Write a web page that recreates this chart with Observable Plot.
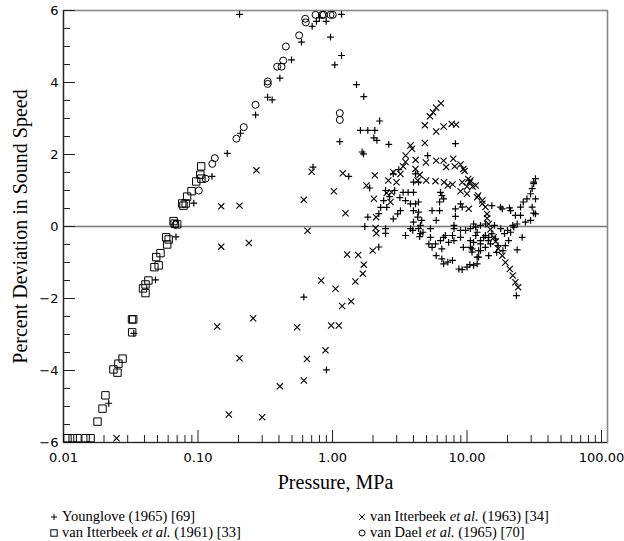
<!DOCTYPE html>
<html><head><meta charset="utf-8">
<script src="https://cdn.jsdelivr.net/npm/d3@7"></script>
<script src="https://cdn.jsdelivr.net/npm/@observablehq/plot@0.6"></script>
<style>
body{margin:0;background:#fff;}
#wrap{position:relative;width:624px;height:541px;background:#fff;}
.leg{position:absolute;font-family:"Liberation Serif","Times New Roman",serif;font-size:14.5px;line-height:16px;height:16px;white-space:nowrap;color:#000;}
.leg svg{vertical-align:-1px;margin-right:3px;overflow:visible}
</style></head><body><div id="wrap"></div>
<script>
// Younglove (1965) [69] : [pressure MPa, percent deviation]
const younglove = [
[0.0217,-4.91],[0.0333,-2.97],[0.0483,-1.48],[0.0686,-0.29],[0.093,0.65],[0.127,1.39],[0.165,2.03],[0.207,2.59],[0.268,3.10],[0.329,3.59],[0.356,3.52],[0.406,4.12],[0.496,4.63],[0.588,5.12],[0.706,5.56],[0.760,5.70],[0.80,5.80],[0.897,5.70],[0.2035,5.89],[1.167,5.89],[0.966,5.26],[1.167,4.75],[1.04,4.49],[1.508,3.94],[1.709,3.61],[2.24,2.93],[1.614,2.67],[1.83,2.67],[2.063,2.67],[2.03,2.46],[2.14,2.39],[1.133,2.36],[1.66,2.07],[1.70,2.02],[2.62,2.28],[0.716,1.65],[0.612,-1.96],[0.902,-3.98],[1.32,1.39],[1.89,1.07],[1.83,0.26],[1.74,0.0],[2.21,-0.57],[2.48,-0.19],[8.2,2.30],[5.1,1.97],
[2.83,1.46],[3.11,1.58],[4.14,1.46],[4.36,1.23],[4.0,1.23],[2.48,1.0],[2.9,1.0],[3.35,0.95],[3.65,0.95],[4.0,0.95],[2.66,0.83],[2.4,0.72],[3.17,0.80],[3.49,0.72],[3.8,0.63],[4.14,0.63],[4.36,0.68],[3.2,0.44],[3.05,0.35],[2.83,0.21],[4.0,0.44],[4.36,0.40],[4.3,0.26],[4.6,0.17],[4.0,0.12],[4.5,0.03],[4.36,-0.06],[4.7,-0.16],[4.45,-0.28],[3.95,-0.11],[3.49,-0.25],
[6.35,0.95],[6.7,0.77],[6.25,0.68],[6.25,0.44],[5.9,0.17],[5.35,-0.06],[5.35,-0.30],[5.2,-0.48],[5.5,-0.58],[5.9,-0.81],[6.5,-0.90],[6.7,-1.04],[7.2,-0.99],[7.8,-0.94],[8.7,-1.18],[9.2,-1.20],[10.0,-1.13],[10.5,-1.06],[11.9,-1.04],[12.2,-0.85],[8.2,0.49],[8.95,0.63],[9.2,0.54],[8.0,-0.06],[8.95,-0.11],[8.95,-0.30],[9.75,-0.11],[10.6,-0.06],[11.6,-0.02],[12.6,0.03],[13.7,0.07],[9.4,-0.58],[10.6,-0.58],[10.9,-0.71],[12.2,-0.67],[6.7,-0.30],[6.35,-0.39],[7.3,-0.44],[7.8,-0.25],[10.6,-0.39],[11.6,-0.25],[12.6,-0.39],[13.3,-0.30],[14.4,-0.39],[5.5,0.44],
[11.2,0.07],[11.9,-0.16],[13.7,-0.25],[14.5,-0.30],[15.3,-0.20],[16.3,-0.34],[14.95,-0.48],[13.7,-0.58],[12.6,-0.67],[11.2,-0.44],[10.9,-0.62],[11.9,-0.85],[14.5,-0.81],[11.2,-1.08],
[32.3,1.33],[31.3,1.23],[31.3,1.19],[30.5,1.05],[29.7,0.91],[27.9,0.77],[26.2,0.68],[25.0,0.54],[30.5,0.54],[31.3,0.37],[29.7,0.17],[27.2,0.12],[25.0,0.31],[22.9,0.31],[21.1,0.44],[18.3,0.49],[15.3,0.58],[23.6,0.07],[22.3,-0.02],[21.1,-0.16],[25.7,-0.30],[23.6,-0.65],[20.0,-0.11],[19.0,-0.20],[23.3,-1.92],[32.3,0.77],[32.3,0.35],
[17.0,-0.53],[18.5,-0.67],[16.6,-0.72],[19.3,-0.53],[17.8,-0.06],[16.0,0.03],[20.4,-0.39],[21.9,0.03],[17.75,0.54],[20.7,0.52],
[2.48,-0.06],[2.28,0.53],[2.21,0.36],[2.53,0.53],[8.2,0.28],[8.0,0.03],[6.5,0.86],[4.5,-0.20],[3.8,-0.06],[5.83,-0.48],[6.5,-0.62],[6.9,-0.25],[8.0,-0.39],[12.6,-0.48]
];
// van Itterbeek et al. (1961) [33]
const itterbeek1961 = [
[0.1056,1.67],[0.104,1.44],[0.106,1.33],[0.097,1.25],[0.0895,0.98],[0.083,0.83],[0.081,0.64],[0.0763,0.64],[0.078,0.58],[0.0658,0.15],[0.070,0.06],[0.067,0.08],[0.058,-0.30],[0.0605,-0.36],[0.059,-0.50],[0.0526,-0.74],[0.0489,-0.85],[0.051,-1.08],[0.0474,-1.13],[0.0428,-1.50],[0.0407,-1.61],[0.039,-1.72],[0.0407,-1.85],[0.033,-2.58],[0.0323,-2.58],[0.0324,-2.94],[0.0275,-3.67],[0.0256,-3.81],[0.0235,-3.97],[0.0252,-4.06],[0.0205,-4.69],[0.0195,-5.06],[0.0179,-5.42],[0.0107,-5.88],[0.0117,-5.88],[0.0127,-5.88],[0.0146,-5.88],[0.0159,-5.88]
];
// van Itterbeek et al. (1963) [34]
const itterbeek1963 = [
[0.1488,0.56],[0.2035,0.58],[0.272,1.56],[0.1488,-0.56],[0.239,-0.46],[0.612,0.74],[0.70,1.52],[0.652,-0.12],[1.193,1.48],[1.023,0.98],[1.249,0.37],[2.063,1.42],[1.79,1.14],[2.03,0.77],[2.11,0.26],[2.12,-0.19],[2.09,-0.04],[1.99,-0.67],[1.285,-0.78],[1.553,-0.79],[1.709,-1.06],[1.68,-1.31],[1.48,-1.53],[0.824,-1.50],[1.053,-1.73],[1.377,-2.08],[1.18,-2.21],[0.139,-2.78],[0.257,-2.55],[0.546,-2.80],[0.978,-2.75],[1.114,-2.75],[0.887,-3.44],[0.646,-3.68],[0.2035,-3.66],[0.612,-4.28],[0.406,-4.44],[0.1695,-5.22],[0.300,-5.30],[0.0248,-5.88],
[24.0,-1.69],[22.9,-1.55],[21.9,-1.36],[20.8,-1.18],[19.3,-1.0],[18.3,-0.81],[17.1,-0.62],[16.3,-0.42],[15.8,-0.30],[14.95,-0.08],[14.5,0.07],[14.1,0.23],[14.1,0.35],[13.7,0.54],[13.0,0.72],[12.1,0.86],[11.0,1.11],[10.5,1.23],[10.2,1.32],[9.6,1.54],[9.4,1.60],[8.95,1.72],[8.1,1.67],[7.9,1.88],[7.0,1.65],[6.7,1.83],[5.9,1.83],[4.95,1.78],[4.15,1.85],[3.5,1.97],[3.9,2.16],[3.8,2.25],[4.86,2.32],[8.3,2.83],[7.7,2.85],[6.7,2.78],[5.9,2.64],[4.86,2.81],[5.3,3.06],[5.6,3.17],[5.9,3.30],[6.4,3.42],
[10.6,1.28],[10.0,1.11],[10.0,0.91],[10.3,0.49],[8.95,0.98],[7.8,1.17],[6.75,1.23],[5.83,1.26],[4.97,1.28],[4.3,1.28],[4.45,1.44],[4.14,1.60],[3.49,1.79],[2.99,1.23],[2.83,1.51],[3.2,1.46],[3.35,1.67],[2.6,1.28],[2.53,0.93],[2.75,0.95],[2.7,0.68],[7.2,1.14],[9.2,1.23],[11.6,1.14],[11.9,0.81],[13.0,0.63]
];
// van Dael et al. (1965) [70]
const vanDael = [
[0.1014,1.0],[0.1138,1.33],[0.1277,1.74],[0.1334,1.90],[0.193,2.44],[0.219,2.76],[0.2676,3.38],[0.330,4.03],[0.330,3.96],[0.388,4.44],[0.418,4.44],[0.430,4.61],[0.450,5.0],[0.565,5.31],[0.627,5.77],[0.633,5.67],[0.748,5.88],[0.838,5.88],[0.860,5.88],[0.966,5.88],[1.005,5.88],[1.133,3.15],[1.133,2.96],[0.068,0.05]
];
const xMajor = [0.01, 0.1, 1, 10, 100];
const xMinor = [0.02,0.03,0.04,0.05,0.06,0.07,0.08,0.09,0.2,0.3,0.4,0.5,0.6,0.7,0.8,0.9,2,3,4,5,6,7,8,9,20,30,40,50,60,70,80,90];
const yMajor = [-6,-4,-2,0,2,4,6];
const yMinor = [-5.5,-5,-4.5,-3.5,-3,-2.5,-1.5,-1,-0.5,0.5,1,1.5,2.5,3,3.5,4.5,5,5.5];
const xDomain = [0.01, 110.8];
const yDomain = [-6, 6];
const xLabel = "Pressure, MPa";
const yLabel = "Percent Deviation in Sound Speed";

const plusSym = {draw(c){c.moveTo(-3.4,0);c.lineTo(3.4,0);c.moveTo(0,-3.4);c.lineTo(0,3.4);}};
const timesSym = {draw(c){c.moveTo(-3.1,-3.1);c.lineTo(3.1,3.1);c.moveTo(-3.1,3.1);c.lineTo(3.1,-3.1);}};
const squareSym = {draw(c){c.rect(-3.7,-3.7,7.4,7.4);}};
const circleSym = {draw(c){c.moveTo(3.5,0);c.arc(0,0,3.5,0,2*Math.PI);}};

const serif = "Liberation Serif, Times New Roman, serif";
const noText = () => "";
const dotOpts = (sym, sw) => ({x: d => d[0], y: d => d[1], symbol: sym, r: 3, fill: "none", stroke: "#000", strokeWidth: sw});

const chart = Plot.plot({
  width: 624, height: 500,
  marginLeft: 63, marginRight: 17, marginTop: 10, marginBottom: 58,
  style: {fontFamily: "DejaVu Sans", fontSize: "13px", color: "#000", background: "#fff"},
  x: {type: "log", domain: xDomain},
  y: {domain: yDomain},
  marks: [
    Plot.ruleY([0], {stroke: "#777", strokeWidth: 1.5}),
    Plot.frame({stroke: "#888", strokeWidth: 1.6}),
    Plot.ruleX([xDomain[0]], {stroke: "#222", strokeWidth: 1.2}),
    Plot.ruleY([yDomain[0]], {stroke: "#222", strokeWidth: 1.2}),
    Plot.axisX(xMajor, {tickSize: -12, tickFormat: noText, label: null, stroke: "#222"}),
    Plot.axisX(xMinor, {tickSize: -7, tickFormat: noText, label: null, stroke: "#222"}),
    Plot.axisX(xMajor, {tickSize: 0, tickPadding: 10, tickFormat: d3.format(".2f"), label: null}),
    Plot.axisY(yMajor, {tickSize: -12, tickFormat: noText, label: null, stroke: "#222"}),
    Plot.axisY(yMinor, {tickSize: -7, tickFormat: noText, label: null, stroke: "#222"}),
    Plot.axisY(yMajor, {tickSize: 0, tickPadding: 5, label: null}),
    Plot.dot(itterbeek1961, dotOpts(squareSym, 1)),
    Plot.dot(vanDael, dotOpts(circleSym, 1)),
    Plot.dot(itterbeek1963, dotOpts(timesSym, 1.1)),
    Plot.dot(younglove, dotOpts(plusSym, 1.2)),
    Plot.text([xLabel], {text: d => d, frameAnchor: "bottom", textAnchor: "middle", dy: 46, fontSize: 20, fontFamily: serif}),
    Plot.text([yLabel], {text: d => d, frameAnchor: "left", textAnchor: "middle", dx: -43, rotate: -90, fontSize: 20, fontFamily: serif})
  ]
});
const wrap = document.getElementById("wrap");
wrap.appendChild(chart);

const legendItems = [
  {sym: "plus", html: "Younglove (1965) [69]", left: 49, top: 508},
  {sym: "square", html: "van Itterbeek <i>et al.</i> (1961) [33]", left: 49, top: 524},
  {sym: "times", html: "van Itterbeek <i>et al.</i> (1963) [34]", left: 357, top: 508},
  {sym: "circle", html: "van Dael <i>et al.</i> (1965) [70]", left: 357, top: 524}
];
const symPath = {
  plus: '<path d="M2,5H8M5,2V8" stroke="#000" fill="none"/>',
  times: '<path d="M2.2,2.2L7.8,7.8M2.2,7.8L7.8,2.2" stroke="#000" fill="none"/>',
  square: '<rect x="1.8" y="1.8" width="6.4" height="6.4" stroke="#000" fill="none"/>',
  circle: '<circle cx="5" cy="5" r="3" stroke="#000" fill="none"/>'
};
for (const it of legendItems) {
  const d = document.createElement("div");
  d.className = "leg";
  d.style.left = it.left + "px";
  d.style.top = it.top + "px";
  d.innerHTML = '<svg width="10" height="10" viewBox="0 0 10 10">' + symPath[it.sym] + '</svg>' + it.html;
  wrap.appendChild(d);
}
</script>
</body></html>
